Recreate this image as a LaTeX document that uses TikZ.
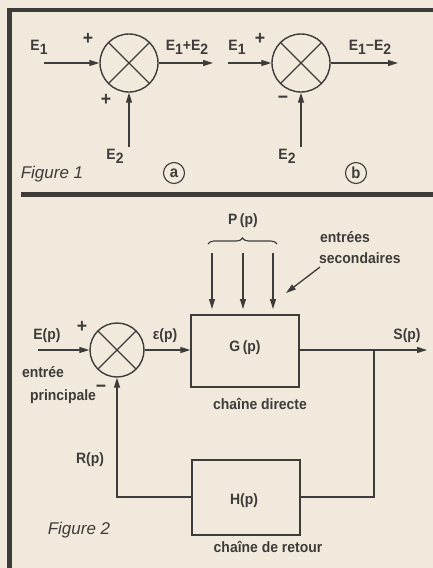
\documentclass[tikz,border=0pt]{standalone}
\usepackage{fontspec}
\setmainfont{Liberation Sans}
\newfontfamily\labf[FakeStretch=0.93]{Liberation Sans Bold}
\newfontfamily\figf{Liberation Sans Italic}
\usetikzlibrary{arrows.meta,decorations.pathreplacing}
\definecolor{paper}{HTML}{F0E9DC}
\definecolor{ink}{HTML}{3E3C3A}
\newcommand\Esub[1]{E\raisebox{-4pt}{#1}}
\tikzset{
  lab/.style={font=\labf\fontsize{15}{17}\selectfont, text=ink, inner sep=0pt},
  sgn/.style={font=\labf\fontsize{19}{19}\selectfont, text=ink, inner sep=0pt},
  figlab/.style={font=\figf\fontsize{17}{19}\selectfont, text=ink, inner sep=0pt},
  sumnode/.style={circle, draw=ink, line width=1.4pt, minimum size=#1, inner sep=0pt,
    path picture={\draw[ink, line width=1.2pt] (path picture bounding box.south west) -- (path picture bounding box.north east)
      (path picture bounding box.north west) -- (path picture bounding box.south east);}},
  blockbox/.style={draw=ink, line width=1.3pt, inner sep=0pt},
  arr/.style={draw=ink, line width=1.3pt, -{Triangle[length=10pt,width=6pt]}},
  ln/.style={draw=ink, line width=1.3pt},
  frame/.style={draw=ink, line width=4.5pt},
  tag/.style={circle, draw=ink, line width=1.1pt, minimum size=21pt, inner sep=0pt, font=\labf\fontsize{16}{16}\selectfont, text=ink}
}
\begin{document}
\begin{tikzpicture}[x=1pt,y=-1pt]
\fill[paper] (0,0) rectangle (433,568);
\useasboundingbox (0,0) rectangle (433,568);
% frame
\draw[frame] (9.5,568) -- (9.5,10) -- (433,10);
\draw[draw=ink, line width=5pt] (21,194) -- (433,194);

% ---------- Figure 1 a
\node[sumnode=58pt] (ca) at (129,63) {};
\coordinate (ea) at (44,63);
\coordinate (oa) at (213,63);
\coordinate (fa) at (129,147);
\draw[arr] (ea) -- (ca.west);
\draw[arr] (ca.east) -- (oa);
\draw[arr] (fa) -- (ca.south);
\node[lab] (e1a) at (39,47) {\Esub{1}};
\node[sgn] (pa1) at (88,39) {+};
\node[lab] (sa) at (187,47) {\Esub{1}+\Esub{2}};
\node[sgn] (pa2) at (106,100) {+};
\node[lab] (e2a) at (115,156) {\Esub{2}};

% ---------- Figure 1 b
\node[sumnode=58pt] (cb) at (301,63) {};
\coordinate (eb) at (228,63);
\coordinate (ob) at (398,63);
\coordinate (fb) at (301,147);
\draw[arr] (eb) -- (cb.west);
\draw[arr] (cb.east) -- (ob);
\draw[arr] (fb) -- (cb.south);
\node[lab] (e1b) at (237,47) {\Esub{1}};
\node[sgn] (pb1) at (260,39) {+};
\node[lab] (sb) at (370,47) {\Esub{1}−\Esub{2}};
\node[sgn] (pb2) at (283,100) {−};
\node[lab] (e2b) at (287,156) {\Esub{2}};

\node[figlab] (f1) at (52,174) {Figure 1};
\node[tag] (ta) at (174,173) {a};
\node[tag] (tb) at (356,173) {b};

% ---------- Figure 2
\node[sumnode=54pt] (cc) at (117,350) {};
\node[blockbox, minimum width=108pt, minimum height=72pt] (G) at (245,351) {};
\node[lab] (Gl) at (245,348) {G\,(p)};
\node[blockbox, minimum width=108pt, minimum height=75pt] (H) at (246,497.5) {};
\node[lab] (Hl) at (244,501) {H(p)};
\coordinate (ein) at (38,350);
\coordinate (sout) at (427,350);
\coordinate (jn) at (374,350);
\coordinate (jh) at (374,497);
\coordinate (fl) at (117,497);
\draw[arr] (ein) -- (cc.west);
\draw[arr] (cc.east) -- (cc.east -| G.west);
\draw[arr] (G.east |- sout) -- (sout);
\draw[ln] (jn) -- (jh) -- (H.east |- jh);
\draw[arr] (H.west |- fl) -- (fl) -- (cc.south);

\node[lab] (Ep) at (47,336) {E(p)};
\node[sgn] (pc) at (82,327) {+};
\node[lab] (ep) at (165,336) {ε(p)};
\node[lab] (Sp) at (407,336) {S(p)};
\node[lab] (en1) at (43,372) {entrée};
\node[lab] (en2) at (63,397) {principale};
\node[sgn] (mc) at (101,389) {−};
\node[lab] (Rp) at (90,460) {R(p)};
\node[lab] (cd) at (260,404) {chaîne directe};
\node[lab] (cr) at (268,547) {chaîne de retour};
\node[figlab] (f2) at (79,530) {Figure 2};

\node[lab] (Pp) at (243,221) {P\,(p)};
\draw[ink, line width=1.1pt, decorate, decoration={brace, amplitude=6pt}] (208,244) -- (277,244);
\coordinate (p1) at (212,253);
\coordinate (p2) at (243,253);
\coordinate (p3) at (273,253);
\draw[arr] (p1) -- (p1 |- 0,309);
\draw[arr] (p2) -- (p2 |- 0,309);
\draw[arr] (p3) -- (p3 |- 0,309);
\node[lab, anchor=west] (es1) at (320,237) {entrées};
\node[lab, anchor=west] (es2) at (319,258) {secondaires};
\coordinate (sa1) at (320,267);
\coordinate (sa2) at (286,293);
\draw[arr] (sa1) -- (sa2);
\end{tikzpicture}
\end{document}
